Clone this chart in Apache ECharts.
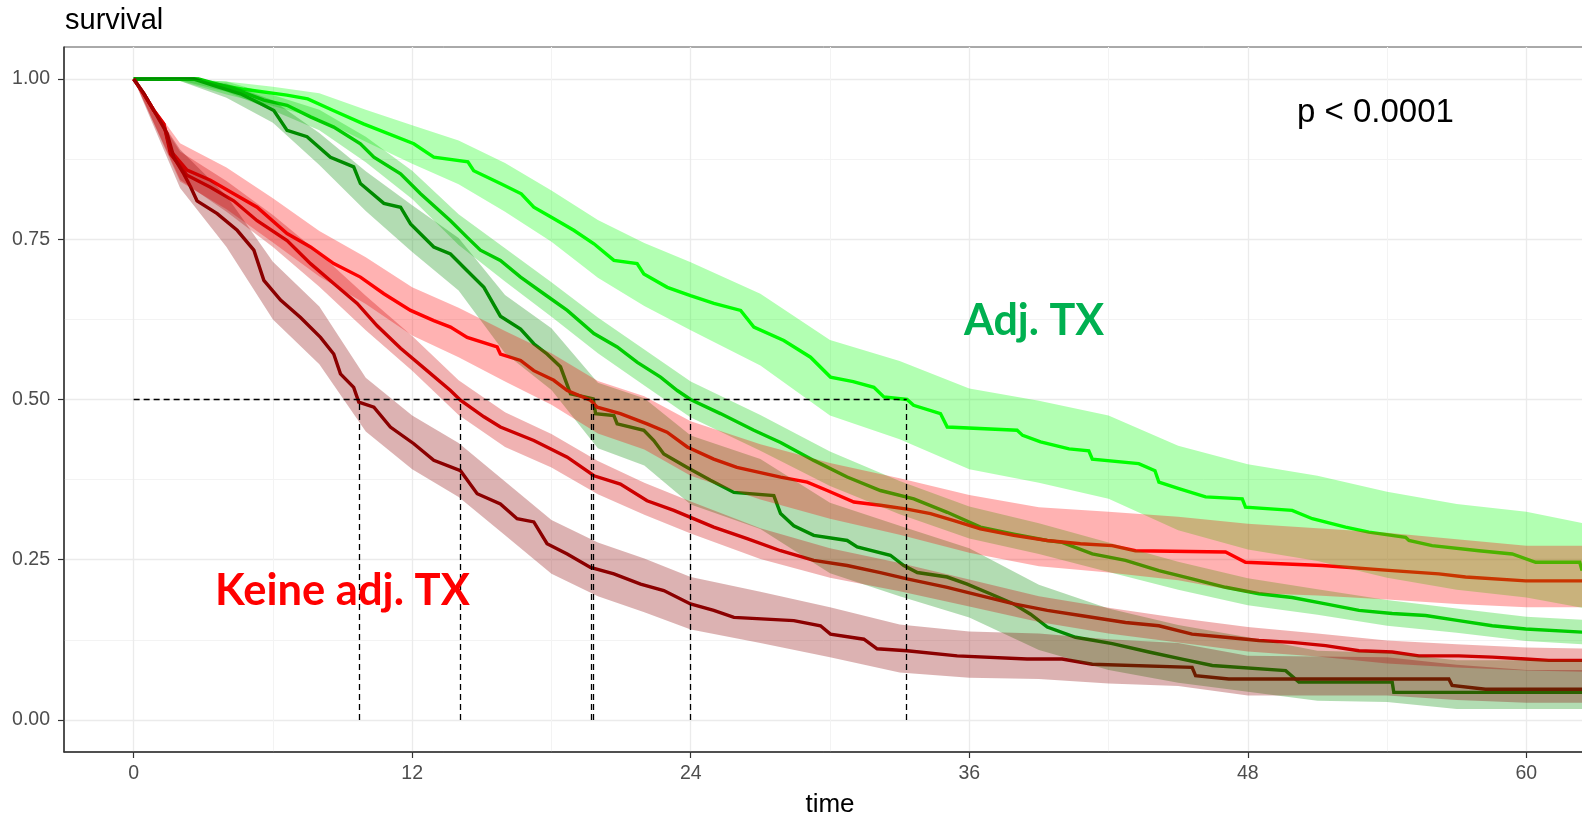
<!DOCTYPE html>
<html>
<head>
<meta charset="utf-8">
<title>survival</title>
<script src="https://cdn.jsdelivr.net/npm/echarts@6.0.0/dist/echarts.min.js"></script>
<style>
  html, body { margin: 0; padding: 0; background: #fff; }
  #km-chart { width: 1582px; height: 817px; }
</style>
</head>
<body>
<div id="km-chart"></div>
<script>
// axis ticks
const timeTicks = [0, 12, 24, 36, 48, 60]
const timeMinor = [6, 18, 30, 42, 54]
const survTicks = [0, 0.25, 0.5, 0.75, 1]
const survMinor = [0.125, 0.375, 0.625, 0.875]

// median survival times (dashed guides)
const medians = [9.7, 14.05, 19.72, 19.82, 24.0, 33.3]

// Kaplan-Meier curves [time, survival]
const greenTopSurv = [[0, 1], [2.7, 1], [3.5, 0.992], [4.75, 0.984], [6.6, 0.975], [7.5, 0.969], [8.6, 0.951], [9.9, 0.93], [12.07, 0.899], [12.93, 0.878], [14.4, 0.871], [14.65, 0.857], [15.8, 0.837], [16.7, 0.821], [17.24, 0.8], [17.96, 0.785], [18.96, 0.764], [19.83, 0.743], [20.69, 0.717], [21.69, 0.712], [21.98, 0.696], [22.99, 0.675], [23.99, 0.662], [25.0, 0.65], [26.15, 0.639], [26.72, 0.613], [28.01, 0.592], [29.16, 0.566], [30.02, 0.535], [31.0, 0.528], [31.89, 0.519], [32.32, 0.504], [33.32, 0.5], [33.6, 0.491], [34.76, 0.478], [35.05, 0.457], [38.06, 0.452], [38.3, 0.444], [39.07, 0.434], [40.3, 0.423], [41.15, 0.42], [41.3, 0.407], [43.3, 0.4], [44.0, 0.389], [44.17, 0.371], [45.03, 0.361], [46.18, 0.348], [47.76, 0.345], [47.9, 0.332], [49.91, 0.327], [50.78, 0.314], [52.21, 0.301], [53.22, 0.293], [54.8, 0.285], [54.94, 0.28], [55.94, 0.272], [57.96, 0.264], [59.39, 0.259], [60.4, 0.246], [62.3, 0.246], [62.4, 0.233]]
const greenMidSurv = [[0, 1], [2.8, 1], [4.3, 0.985], [5.61, 0.967], [6.61, 0.959], [7.62, 0.941], [8.62, 0.925], [9.77, 0.899], [10.35, 0.878], [11.5, 0.852], [12.36, 0.821], [13.65, 0.779], [14.37, 0.753], [14.94, 0.733], [15.8, 0.717], [16.67, 0.691], [17.67, 0.665], [18.68, 0.639], [19.83, 0.603], [20.83, 0.582], [21.7, 0.558], [22.7, 0.535], [23.42, 0.514], [23.99, 0.5], [25.28, 0.478], [26.72, 0.452], [27.87, 0.433], [29.3, 0.405], [30.74, 0.379], [32.17, 0.358], [33.61, 0.345], [35.05, 0.324], [36.48, 0.301], [37.92, 0.29], [39.36, 0.28], [40.0, 0.277], [41.3, 0.259], [42.73, 0.249], [44.17, 0.233], [45.6, 0.22], [47.04, 0.207], [48.48, 0.197], [49.91, 0.191], [51.35, 0.181], [52.79, 0.171], [54.22, 0.166], [55.66, 0.163], [57.09, 0.155], [58.53, 0.147], [59.97, 0.142], [62.4, 0.137]]
const greenLowSurv = [[0, 1], [2.6, 1], [3.6, 0.988], [4.6, 0.977], [5.46, 0.962], [6.04, 0.951], [6.61, 0.92], [7.47, 0.91], [8.48, 0.878], [9.48, 0.863], [9.77, 0.837], [10.78, 0.806], [11.5, 0.8], [11.93, 0.774], [12.93, 0.738], [13.65, 0.727], [14.37, 0.701], [15.09, 0.675], [15.8, 0.63], [16.67, 0.61], [17.24, 0.587], [17.81, 0.571], [18.39, 0.551], [18.82, 0.509], [19.8, 0.501], [19.9, 0.478], [20.69, 0.475], [20.83, 0.462], [21.98, 0.452], [22.41, 0.436], [22.84, 0.415], [23.85, 0.394], [24.85, 0.374], [25.86, 0.355], [27.58, 0.35], [27.87, 0.322], [28.44, 0.303], [29.3, 0.288], [30.74, 0.28], [31.17, 0.27], [32.6, 0.257], [33.18, 0.241], [33.76, 0.23], [35.05, 0.223], [35.91, 0.212], [36.9, 0.197], [37.92, 0.181], [38.64, 0.165], [39.36, 0.145], [40.58, 0.129], [42.16, 0.119], [43.74, 0.106], [45.17, 0.095], [46.47, 0.085], [49.63, 0.077], [50.2, 0.059], [54.22, 0.059], [54.29, 0.043], [62.4, 0.043]]
const redTopSurv = [[0, 1], [0.44, 0.977], [0.87, 0.951], [1.3, 0.93], [1.59, 0.888], [2.3, 0.858], [3.31, 0.842], [4.31, 0.821], [5.32, 0.8], [6.61, 0.759], [7.62, 0.738], [8.62, 0.712], [9.77, 0.691], [10.78, 0.665], [11.93, 0.639], [12.93, 0.623], [13.65, 0.613], [14.37, 0.597], [15.66, 0.582], [15.8, 0.571], [16.67, 0.561], [17.24, 0.545], [18.1, 0.53], [18.68, 0.514], [19.68, 0.499], [19.97, 0.488], [20.97, 0.478], [22.12, 0.462], [22.98, 0.449], [23.85, 0.426], [24.99, 0.407], [25.99, 0.394], [27.87, 0.379], [29.02, 0.371], [29.88, 0.358], [31.03, 0.34], [32.17, 0.335], [33.32, 0.329], [34.33, 0.322], [35.34, 0.311], [36.48, 0.298], [37.92, 0.288], [39.36, 0.28], [40.79, 0.275], [42.16, 0.272], [43.16, 0.264], [47.04, 0.262], [47.9, 0.246], [51.21, 0.241], [54.22, 0.233], [56.23, 0.228], [57.38, 0.223], [59.97, 0.217], [62.4, 0.217]]
const redMidSurv = [[0, 1], [0.44, 0.977], [0.87, 0.951], [1.3, 0.93], [1.59, 0.883], [2.3, 0.85], [3.31, 0.831], [4.31, 0.81], [5.32, 0.779], [6.61, 0.748], [7.62, 0.712], [8.62, 0.681], [9.63, 0.65], [10.49, 0.615], [11.5, 0.58], [12.64, 0.545], [13.65, 0.514], [14.08, 0.499], [15.09, 0.473], [15.8, 0.457], [17.24, 0.436], [18.68, 0.41], [19.83, 0.381], [20.97, 0.368], [22.12, 0.342], [23.27, 0.327], [23.99, 0.316], [24.99, 0.301], [26.43, 0.283], [27.87, 0.264], [29.3, 0.249], [30.74, 0.241], [32.17, 0.23], [33.32, 0.22], [35.05, 0.207], [36.48, 0.194], [37.92, 0.181], [39.36, 0.171], [40.79, 0.163], [42.73, 0.152], [44.17, 0.147], [45.6, 0.134], [47.04, 0.129], [48.48, 0.124], [49.91, 0.121], [51.35, 0.116], [52.79, 0.108], [54.22, 0.106], [55.37, 0.1], [57.09, 0.1], [58.53, 0.098], [59.97, 0.095], [60.97, 0.093], [62.4, 0.093]]
const redLowSurv = [[0, 1], [0.44, 0.977], [0.87, 0.951], [1.44, 0.915], [1.73, 0.878], [2.16, 0.852], [2.45, 0.832], [2.73, 0.81], [3.6, 0.79], [4.46, 0.764], [5.18, 0.733], [5.61, 0.686], [6.33, 0.655], [7.19, 0.628], [8.05, 0.597], [8.62, 0.571], [8.91, 0.54], [9.48, 0.519], [9.7, 0.496], [10.35, 0.488], [11.06, 0.457], [12.07, 0.431], [12.93, 0.405], [14.08, 0.389], [14.8, 0.353], [15.8, 0.337], [16.52, 0.314], [17.24, 0.309], [17.81, 0.275], [18.68, 0.259], [19.68, 0.238], [20.69, 0.228], [21.84, 0.212], [22.84, 0.202], [23.99, 0.181], [24.99, 0.171], [25.86, 0.16], [28.44, 0.155], [29.59, 0.147], [30.02, 0.134], [31.46, 0.126], [32.03, 0.111], [33.32, 0.108], [35.48, 0.1], [38.49, 0.095], [40.0, 0.095], [41.3, 0.087], [45.6, 0.082], [45.75, 0.069], [47.18, 0.064], [56.66, 0.064], [56.8, 0.054], [58.24, 0.048], [62.4, 0.048]]

// confidence bands, read at these times
const bandTimes = [0, 2, 4, 6, 8, 10, 12, 14, 16, 18, 20, 22, 24, 27, 30, 33, 36, 39, 42, 45, 48, 51, 54, 57, 60, 63]
const greenTopUpper = [1, 1, 0.996, 0.988, 0.978, 0.952, 0.928, 0.904, 0.869, 0.826, 0.78, 0.744, 0.714, 0.665, 0.593, 0.56, 0.517, 0.498, 0.475, 0.428, 0.399, 0.381, 0.356, 0.337, 0.325, 0.303]
const greenTopLower = [1, 0.997, 0.976, 0.958, 0.938, 0.902, 0.868, 0.836, 0.793, 0.746, 0.69, 0.646, 0.608, 0.553, 0.475, 0.438, 0.391, 0.37, 0.345, 0.296, 0.266, 0.248, 0.222, 0.203, 0.191, 0.171]
const greenMidUpper = [1, 1, 0.996, 0.975, 0.952, 0.91, 0.857, 0.789, 0.736, 0.683, 0.628, 0.578, 0.528, 0.476, 0.419, 0.373, 0.333, 0.307, 0.277, 0.247, 0.221, 0.204, 0.187, 0.174, 0.161, 0.155]
const greenMidLower = [1, 0.998, 0.98, 0.951, 0.92, 0.87, 0.813, 0.741, 0.684, 0.629, 0.572, 0.522, 0.472, 0.42, 0.365, 0.321, 0.283, 0.259, 0.231, 0.203, 0.179, 0.164, 0.147, 0.136, 0.123, 0.117]
const greenLowUpper = [1, 1, 0.993, 0.967, 0.916, 0.856, 0.803, 0.752, 0.663, 0.611, 0.526, 0.502, 0.444, 0.407, 0.339, 0.303, 0.268, 0.211, 0.174, 0.148, 0.129, 0.108, 0.105, 0.093, 0.093, 0.093]
const greenLowLower = [1, 0.997, 0.971, 0.932, 0.866, 0.794, 0.73, 0.67, 0.572, 0.515, 0.424, 0.397, 0.336, 0.298, 0.229, 0.193, 0.16, 0.109, 0.078, 0.058, 0.044, 0.03, 0.028, 0.017, 0.017, 0.017]
const redTopUpper = [1, 0.9, 0.862, 0.814, 0.763, 0.722, 0.675, 0.643, 0.607, 0.572, 0.529, 0.505, 0.466, 0.43, 0.401, 0.377, 0.351, 0.332, 0.325, 0.317, 0.306, 0.299, 0.292, 0.282, 0.272, 0.272]
const redTopLower = [1, 0.84, 0.797, 0.745, 0.692, 0.649, 0.6, 0.566, 0.528, 0.492, 0.447, 0.422, 0.381, 0.344, 0.314, 0.289, 0.261, 0.24, 0.23, 0.218, 0.198, 0.194, 0.188, 0.181, 0.176, 0.176]
const redMidUpper = [1, 0.887, 0.841, 0.788, 0.728, 0.662, 0.599, 0.53, 0.48, 0.446, 0.404, 0.37, 0.341, 0.299, 0.268, 0.245, 0.219, 0.193, 0.175, 0.159, 0.145, 0.135, 0.124, 0.118, 0.113, 0.111]
const redMidLower = [1, 0.843, 0.793, 0.738, 0.676, 0.608, 0.545, 0.476, 0.426, 0.394, 0.352, 0.32, 0.291, 0.251, 0.222, 0.201, 0.177, 0.153, 0.135, 0.121, 0.107, 0.099, 0.088, 0.082, 0.077, 0.075]
const redLowUpper = [1, 0.89, 0.818, 0.715, 0.645, 0.534, 0.475, 0.432, 0.372, 0.312, 0.277, 0.252, 0.223, 0.2, 0.176, 0.149, 0.138, 0.135, 0.126, 0.12, 0.1, 0.099, 0.098, 0.086, 0.078, 0.078]
const redLowLower = [1, 0.83, 0.738, 0.625, 0.555, 0.45, 0.391, 0.348, 0.288, 0.228, 0.193, 0.168, 0.141, 0.12, 0.098, 0.074, 0.066, 0.064, 0.057, 0.053, 0.038, 0.038, 0.038, 0.031, 0.027, 0.027]

const strata = [
  { name: 'adj-1', color: '#00FF00', surv: greenTopSurv, upper: greenTopUpper, lower: greenTopLower },
  { name: 'adj-2', color: '#00CD00', surv: greenMidSurv, upper: greenMidUpper, lower: greenMidLower },
  { name: 'adj-3', color: '#008B00', surv: greenLowSurv, upper: greenLowUpper, lower: greenLowLower },
  { name: 'none-1', color: '#FF0000', surv: redTopSurv, upper: redTopUpper, lower: redTopLower },
  { name: 'none-2', color: '#CD0000', surv: redMidSurv, upper: redMidUpper, lower: redMidLower },
  { name: 'none-3', color: '#8B0000', surv: redLowSurv, upper: redLowUpper, lower: redLowLower },
]

const AXIS_FONT = '"Liberation Sans", Arial, sans-serif'

function lineSeries(s) {
  return {
    type: 'line',
    name: s.name,
    data: s.surv,
    showSymbol: false,
    symbol: 'none',
    silent: true,
    z: 2,
    lineStyle: { color: s.color, width: 3.4, join: 'miter' },
    itemStyle: { color: s.color },
  }
}

// ribbon drawn on top of the lines, like ggsurvplot does
function bandSeries(s) {
  return {
    type: 'custom',
    name: s.name + ' ci',
    data: [[0, 1]],
    clip: true,
    silent: true,
    z: 3,
    renderItem: (params, api) => {
      let pts = []
      bandTimes.forEach((t, i) => pts.push(api.coord([t, s.upper[i]])))
      for (let i = bandTimes.length - 1; i >= 0; i--) {
        pts.push(api.coord([bandTimes[i], s.lower[i]]))
      }
      return {
        type: 'polygon',
        shape: { points: pts },
        style: { fill: s.color, opacity: 0.3 },
      }
    },
  }
}

function medianLines() {
  let segs = [[{ coord: [0, 0.5] }, { coord: [Math.max(...medians), 0.5] }]]
  medians.forEach((m) => segs.push([{ coord: [m, 0] }, { coord: [m, 0.5] }]))
  return {
    type: 'line',
    data: [],
    silent: true,
    markLine: {
      symbol: 'none',
      silent: true,
      animation: false,
      label: { show: false },
      lineStyle: { color: '#000', type: [6, 4], width: 1.3 },
      data: segs,
    },
  }
}

let chartDom = document.getElementById('km-chart')
let myChart = echarts.init(chartDom)
let option = {
  animation: false,
  backgroundColor: '#fff',
  grid: {
    left: 64,
    right: -14,
    top: 47,
    bottom: 65,
    show: true,
    borderColor: '#555',
    borderWidth: 1,
    outerBoundsMode: 'none',
  },
  xAxis: [
    {
      type: 'value',
      min: -3,
      max: 63,
      position: 'bottom',
      axisLine: { show: true, onZero: false, lineStyle: { color: '#333', width: 1.5 } },
      axisTick: { show: true, length: 6, customValues: timeTicks, lineStyle: { color: '#333', width: 1.2 } },
      axisLabel: { customValues: timeTicks, color: '#4D4D4D', fontSize: 19.5, fontFamily: AXIS_FONT, margin: 12 },
      splitLine: { show: true, lineStyle: { color: '#EBEBEB', width: 1.3 } },
      name: 'time',
      nameLocation: 'middle',
      nameGap: 40,
      nameTextStyle: { color: '#000', fontSize: 26, fontFamily: AXIS_FONT },
    },
    {
      // minor grid
      type: 'value',
      min: -3,
      max: 63,
      position: 'bottom',
      axisLine: { show: false, onZero: false },
      axisTick: { show: false, customValues: timeMinor },
      axisLabel: { show: false, customValues: timeMinor },
      splitLine: { show: true, lineStyle: { color: '#F3F3F3', width: 1 } },
    },
  ],
  yAxis: [
    {
      type: 'value',
      min: -0.05,
      max: 1.05,
      axisLine: { show: true, onZero: false, lineStyle: { color: '#333', width: 1.5 } },
      axisTick: { show: true, length: 6, customValues: survTicks, lineStyle: { color: '#333', width: 1.2 } },
      axisLabel: {
        customValues: survTicks,
        color: '#4D4D4D',
        fontSize: 19.5,
        fontFamily: AXIS_FONT,
        margin: 14,
        formatter: (v) => v.toFixed(2),
      },
      splitLine: { show: true, lineStyle: { color: '#EBEBEB', width: 1.3 } },
    },
    {
      type: 'value',
      min: -0.05,
      max: 1.05,
      axisLine: { show: false, onZero: false },
      axisTick: { show: false, customValues: survMinor },
      axisLabel: { show: false, customValues: survMinor },
      splitLine: { show: true, lineStyle: { color: '#F3F3F3', width: 1 } },
    },
  ],
  graphic: [
    {
      type: 'text',
      x: 65,
      y: 21,
      style: { text: 'survival', font: '29px ' + AXIS_FONT, fill: '#000', textAlign: 'left', textVerticalAlign: 'middle' },
    },
    {
      type: 'text',
      x: 1297,
      y: 113,
      z: 10,
      style: { text: 'p < 0.0001', font: '33px ' + AXIS_FONT, fill: '#000', textAlign: 'left', textVerticalAlign: 'middle' },
    },
    {
      type: 'text',
      x: 964,
      y: 321,
      z: 10,
      style: { text: 'Adj. TX', font: 'bold 43px Lato, "Open Sans", sans-serif', fill: '#00B050', textAlign: 'left', textVerticalAlign: 'middle' },
    },
    {
      type: 'text',
      x: 215,
      y: 591,
      z: 10,
      style: { text: 'Keine adj. TX', font: 'bold 43.5px Lato, "Open Sans", sans-serif', fill: '#FF0000', textAlign: 'left', textVerticalAlign: 'middle' },
    },
  ],
  series: [...strata.map(lineSeries), ...strata.map(bandSeries), medianLines()],
}
myChart.setOption(option)
window.addEventListener('resize', () => {
  myChart.resize()
})
</script>
</body>
</html>
